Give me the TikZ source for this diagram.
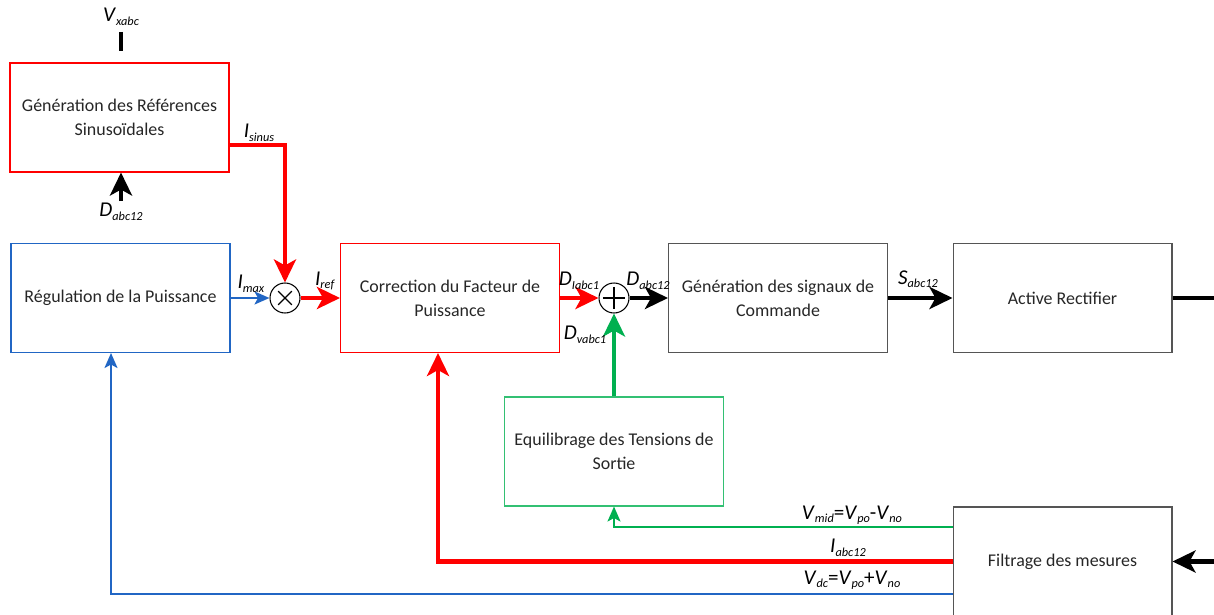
\documentclass[tikz,border=0pt]{standalone}
\usepackage{fontspec}
\setmainfont{Carlito}
\usepackage{xcolor}
\usetikzlibrary{arrows.meta, calc}

\definecolor{sigred}{HTML}{FF0000}
\definecolor{sigblue}{HTML}{2166C4}
\definecolor{siggreen}{HTML}{00B050}
\definecolor{boxgray}{HTML}{555555}
\definecolor{txtgray}{HTML}{262626}
\newcommand{\sig}[2]{\textit{#1}\raisebox{-0.35ex}{\fontsize{7}{8}\selectfont\textit{#2}}}

\begin{document}
\begin{tikzpicture}[x=0.02cm, y=-0.02cm,
    every node/.style={font=\fontsize{10.2}{13.5}\selectfont, text=txtgray},
    blockbox/.style={draw, line width=0.6pt, align=center, minimum width=4.38cm, minimum height=2.18cm},
    opcircle/.style={draw=black, line width=0.6pt, circle, minimum size=0.6cm, inner sep=0pt},
    siglabel/.style={font=\fontsize{12}{13}\selectfont, text=black, inner sep=1pt},
    fatline/.style={line width=2.4pt, -{Stealth[length=0.46cm, width=0.44cm, inset=0.12cm]}},
    slimline/.style={line width=1.2pt, -{Stealth[length=0.3cm, width=0.26cm, inset=0.07cm]}}]
  \useasboundingbox (0,0) rectangle (1214,615);
  \clip (0,0) rectangle (1214,615);
  % blocks
  \node[blockbox, draw=sigred] (genref) at (119.5,117.5) {Génération des Références\\Sinusoïdales};
  \node[blockbox, draw=sigblue] (reg) at (120.5,298) {Régulation de la Puissance};
  \node[blockbox, draw=sigred] (corr) at (450,298) {Correction du Facteur de\\Puissance};
  \node[blockbox, draw=boxgray] (gensig) at (778,298) {Génération des signaux de\\Commande};
  \node[blockbox, draw=boxgray] (rect) at (1062.5,298) {Active Rectifier};
  \node[blockbox, draw=siggreen!80] (equil) at (614,451.5) {Equilibrage des Tensions de\\Sortie};
  \node[blockbox, draw=boxgray] (filt) at (1062.5,561.5) {Filtrage des mesures};
  % operators
  \node[opcircle] (mult) at (285,298) {};
  \draw[line width=0.8pt] ($(mult)!0.62!(mult.45)$) -- ($(mult)!0.62!(mult.225)$)
    ($(mult)!0.62!(mult.135)$) -- ($(mult)!0.62!(mult.315)$);
  \node[opcircle] (sum) at (614,298) {};
  \draw[line width=0.8pt] ($(sum)!0.72!(sum.north)$) -- ($(sum)!0.72!(sum.south)$)
    ($(sum)!0.72!(sum.west)$) -- ($(sum)!0.72!(sum.east)$);
  % free ends
  \coordinate (vxtop) at (121,32);
  \coordinate (vxbot) at (121,51);
  \coordinate (dfoot) at (121,201);
  \coordinate (rectout) at (1214,298);
  \coordinate (filtin) at (1214,561.5);
  % connectors
  \draw[line width=2.4pt] (vxtop) -- (vxbot);
  \node[siglabel] (lvx) at (121,17) {\sig{V}{xabc}};
  \draw[fatline, black] (dfoot) -- (genref.south -| dfoot);
  \node[siglabel] (ldabc) at (121,212) {\sig{D}{abc12}};
  \draw[fatline, sigred] ([yshift=-0.55cm]genref.east) -| (mult.north);
  \node[siglabel] (lsinus) at (259,133) {\sig{I}{sinus}};
  \draw[slimline, sigblue] (reg.east) -- (mult.west);
  \node[siglabel] (lmax) at (251,284) {\sig{I}{max}};
  \draw[fatline, sigred] (mult.east) -- (corr.west);
  \node[siglabel] (lref) at (325,281) {\sig{I}{ref}};
  \draw[fatline, sigred] (corr.east) -- (sum.west);
  \node[siglabel] (ldi) at (579,281) {\sig{D}{Iabc1}};
  \draw[fatline, black] (sum.east) -- (gensig.west);
  \node[siglabel] (ldsum) at (648,281) {\sig{D}{abc12}};
  \draw[fatline, siggreen] (equil.north) -- (sum.south);
  \node[siglabel] (ldv) at (585,335) {\sig{D}{vabc1}};
  \draw[fatline, black] (gensig.east) -- (rect.west);
  \node[siglabel] (ls) at (918,279) {\sig{S}{abc12}};
  \draw[line width=2.4pt, black] (rect.east) -- (rectout);
  \draw[fatline, black] (filtin) -- (filt.east);
  \draw[slimline, siggreen] ([yshift=0.69cm]filt.west) -| (equil.south);
  \node[siglabel] (lvmid) at (852,515) {\sig{V}{mid}=\sig{V}{po}-\sig{V}{no}};
  \draw[fatline, sigred] (filt.west) -| ([xshift=-0.24cm]corr.south);
  \node[siglabel] (liabc) at (848,548) {\sig{I}{abc12}};
  \draw[slimline, sigblue] ([yshift=-0.65cm]filt.west) -| ([xshift=-0.19cm]reg.south);
  \node[siglabel] (lvdc) at (852,580) {\sig{V}{dc}=\sig{V}{po}+\sig{V}{no}};
\end{tikzpicture}
\end{document}
